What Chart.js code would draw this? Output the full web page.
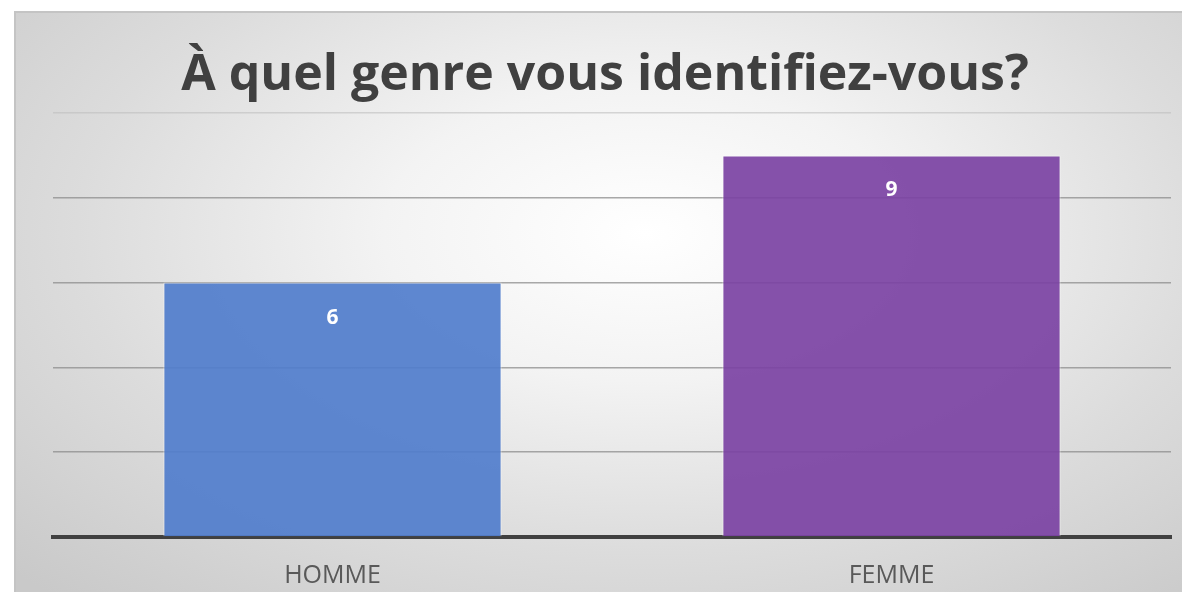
<!DOCTYPE html>
<html lang="fr">

<head>
    <meta charset="UTF-8">
    <meta name="viewport" content="width=device-width, initial-scale=1.0">
    <script src="https://cdn.jsdelivr.net/npm/chart.js"></script>
    <title>Genre</title>
    <style>
        html, body {
            margin: 0;
            padding: 0;
            background: #fff;
            overflow: hidden;
        }

        /* Cadre du graphique avec fond dégradé */
        .frame {
            position: absolute;
            left: 14px;
            top: 11px;
            width: 1168px;
            height: 581px;
            box-sizing: border-box;
            border-top: 2px solid #c4c4c4;
            border-left: 2px solid #c4c4c4;
            background: radial-gradient(ellipse 75% 85% at 54% 38%, #ffffff 0%, #f3f3f3 30%, #dcdcdc 65%, #c9c9c9 100%);
        }

        .frame canvas {
            display: block;
        }
    </style>
</head>

<body>
    <div class="frame">
        <canvas id="barChart" width="1166" height="579"></canvas>
    </div>
    <script>
        // Données
        var categories = ['HOMME', 'FEMME'];
        var reponses = [6, 9];
        var couleurs = ['rgba(82, 126, 204, 0.93)', 'rgba(124, 68, 164, 0.93)'];
        var titre = 'À quel genre vous identifiez-vous?';

        // Étiquettes blanches dans les barres
        var barLabels = {
            id: 'barLabels',
            afterDatasetsDraw: function (chart) {
                var ctx = chart.ctx;
                var meta = chart.getDatasetMeta(0);
                ctx.save();
                ctx.fillStyle = '#ffffff';
                ctx.font = 'bold 21px "Open Sans"';
                ctx.textAlign = 'center';
                ctx.textBaseline = 'middle';
                meta.data.forEach(function (bar, i) {
                    ctx.fillText(String(reponses[i]), bar.x, bar.y + 35);
                });
                ctx.restore();
            }
        };

        var ctx = document.getElementById('barChart').getContext('2d');
        new Chart(ctx, {
            type: 'bar',
            data: {
                labels: categories,
                datasets: [{
                    data: reponses,
                    backgroundColor: couleurs,
                    borderColor: 'rgba(255, 255, 255, 0.6)',
                    borderWidth: 1,
                    categoryPercentage: 0.605,
                    barPercentage: 1.0
                }]
            },
            options: {
                responsive: false,
                animation: false,
                layout: {
                    padding: { left: 23, right: 11, top: 0, bottom: 0 }
                },
                plugins: {
                    legend: { display: false },
                    tooltip: { enabled: false },
                    title: {
                        display: true,
                        text: titre,
                        color: '#404040',
                        font: { family: '"Open Sans"', size: 50, weight: 'bold' },
                        padding: { top: 33, bottom: 7 }
                    }
                },
                scales: {
                    x: {
                        grid: { display: false },
                        border: { display: true, color: '#404040', width: 4 },
                        ticks: {
                            color: '#595959',
                            padding: 16,
                            font: { family: '"Open Sans"', size: 25 }
                        },
                        afterFit: function (scale) {
                            scale.height = 55;
                        }
                    },
                    y: {
                        min: 0,
                        max: 10,
                        ticks: { display: false, stepSize: 2 },
                        border: { display: false },
                        afterFit: function (scale) {
                            scale.width = 14;
                        },
                        grid: {
                            color: function (c) {
                                return c.tick && c.tick.value === 10 ? 'rgba(190, 190, 190, 0.6)' : 'rgba(140, 140, 140, 0.75)';
                            },
                            lineWidth: 1.5,
                            drawTicks: false
                        }
                    }
                }
            },
            plugins: [barLabels]
        });
    </script>
</body>

</html>
